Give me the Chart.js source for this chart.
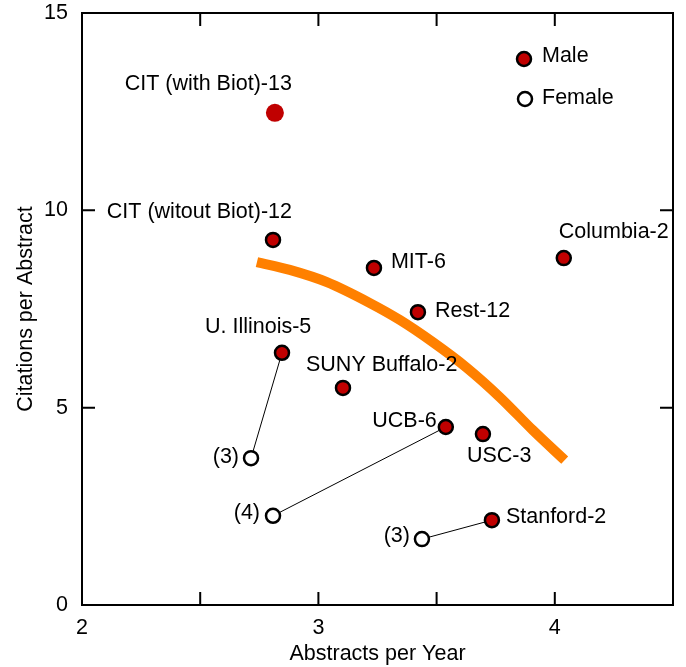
<!DOCTYPE html>
<html>
<head>
<meta charset="utf-8">
<script src="https://cdn.jsdelivr.net/npm/chart.js@4/dist/chart.umd.min.js"></script>
<style>
  html, body { margin: 0; padding: 0; background: #fff; }
  #wrap { width: 686px; height: 667px; }
</style>
</head>
<body>
<div id="wrap"><canvas id="c" width="686" height="667"></canvas></div>
<script>
// ---------- data ----------
const maleNames = ['CIT (witout Biot)-12', 'MIT-6', 'Columbia-2', 'Rest-12', 'U. Illinois-5',
                   'SUNY Buffalo-2', 'UCB-6', 'USC-3', 'Stanford-2'];
const maleX = [2.808, 3.235, 4.038, 3.421, 2.846, 3.104, 3.539, 3.696, 3.734];
const maleY = [9.25, 8.54, 8.79, 7.42, 6.39, 5.50, 4.51, 4.33, 2.15];

const citBiotName = ['CIT (with Biot)-13'];
const citBiotX = [2.816];
const citBiotY = [12.47];

const femaleNames = ['(3)', '(4)', '(3)'];
const femaleX = [2.715, 2.808, 3.438];
const femaleY = [3.72, 2.26, 1.67];
const femalePairsMale = [4, 6, 8]; // index into male arrays

const trendX = [2.740, 2.879, 3.036, 3.218, 3.345, 3.484, 3.628, 3.767, 3.907, 4.042];
const trendY = [8.69, 8.49, 8.18, 7.65, 7.22, 6.66, 6.01, 5.27, 4.43, 3.67];

const xTickLabels = [2, 3, 4];
const yTickLabels = [0, 5, 10, 15];

const xTitle = 'Abstracts per Year';
const yTitle = 'Citations per Abstract';
const legendNames = ['Male', 'Female'];

// ---------- label layout (pixel offsets, not data) ----------
const maleLabelLayout = [
  {align: 'right', dx: 19, dy: -28},
  {align: 'left', dx: 17, dy: -6},
  {align: 'left', dx: -5, dy: -26},
  {align: 'left', dx: 17, dy: -1},
  {align: 'left', dx: -77, dy: -26},
  {align: 'left', dx: -37, dy: -23},
  {align: 'right', dx: -9, dy: -6},
  {align: 'left', dx: -16, dy: 22},
  {align: 'left', dx: 14, dy: -3}
];
const citLabelLayout = [{align: 'right', dx: 17, dy: -29}];
const femaleLabelLayout = [
  {align: 'right', dx: -12, dy: -1},
  {align: 'right', dx: -13, dy: -3},
  {align: 'right', dx: -12, dy: -3}
];

const FONT = '"Liberation Sans", Arial, Helvetica, sans-serif';
const FSIZE = 21.5;
const RED = '#C00000';

const toPts = (xs, ys) => xs.map((x, i) => ({x, y: ys[i]}));

const connectorSets = femalePairsMale.map((mi, i) => ({
  data: [{x: femaleX[i], y: femaleY[i]}, {x: maleX[mi], y: maleY[mi]}],
  showLine: true, borderColor: '#000', borderWidth: 1, pointRadius: 0,
  pointHoverRadius: 0, order: 5
}));

const datasets = [
  {data: toPts(maleX, maleY), backgroundColor: RED, borderColor: '#000', borderWidth: 2.5,
   pointRadius: 7, pointHoverRadius: 7, order: 0},
  {data: toPts(citBiotX, citBiotY), backgroundColor: RED, borderColor: RED, borderWidth: 0,
   pointRadius: 9, pointHoverRadius: 9, order: 0},
  {data: toPts(femaleX, femaleY), backgroundColor: '#fff', borderColor: '#000', borderWidth: 2.5,
   pointRadius: 7, pointHoverRadius: 7, order: 0},
  {data: toPts(trendX, trendY), showLine: true, borderColor: '#FF8000', borderWidth: 10,
   borderCapStyle: 'butt', borderJoinStyle: 'round', cubicInterpolationMode: 'monotone',
   pointRadius: 0, pointHoverRadius: 0, order: 3},
  ...connectorSets
];

const decor = {
  id: 'decor',
  afterDatasetsDraw(chart) {
    const ctx = chart.ctx;
    const a = chart.chartArea;
    const xs = chart.scales.x, ys = chart.scales.y;
    ctx.save();
    // frame
    ctx.strokeStyle = '#000';
    ctx.lineWidth = 2;
    ctx.strokeRect(a.left, a.top, a.right - a.left, a.bottom - a.top);
    // inward ticks
    const TL = 13;
    ctx.beginPath();
    xs.ticks.forEach(t => {
      const px = xs.getPixelForValue(t.value);
      ctx.moveTo(px, a.bottom); ctx.lineTo(px, a.bottom - TL);
      ctx.moveTo(px, a.top); ctx.lineTo(px, a.top + TL);
    });
    ys.ticks.forEach(t => {
      const py = ys.getPixelForValue(t.value);
      ctx.moveTo(a.left, py); ctx.lineTo(a.left + TL, py);
      ctx.moveTo(a.right, py); ctx.lineTo(a.right - TL, py);
    });
    ctx.stroke();

    // point labels
    ctx.fillStyle = '#000';
    ctx.font = FSIZE + 'px ' + FONT;
    ctx.textBaseline = 'middle';
    const drawLabels = (names, xv, yv, layout) => {
      names.forEach((n, i) => {
        const px = xs.getPixelForValue(xv[i]);
        const py = ys.getPixelForValue(yv[i]);
        const L = layout[i];
        ctx.textAlign = L.align;
        ctx.fillText(n, px + L.dx, py + L.dy);
      });
    };
    drawLabels(maleNames, maleX, maleY, maleLabelLayout);
    drawLabels(citBiotName, citBiotX, citBiotY, citLabelLayout);
    drawLabels(femaleNames, femaleX, femaleY, femaleLabelLayout);

    // legend
    const lx = a.right - 149, ly1 = a.top + 46, ly2 = a.top + 86;
    ctx.lineWidth = 2.5;
    ctx.beginPath(); ctx.arc(lx, ly1, 7, 0, Math.PI * 2);
    ctx.fillStyle = RED; ctx.fill(); ctx.strokeStyle = '#000'; ctx.stroke();
    ctx.beginPath(); ctx.arc(lx + 1, ly2, 7, 0, Math.PI * 2);
    ctx.fillStyle = '#fff'; ctx.fill(); ctx.stroke();
    ctx.fillStyle = '#000';
    ctx.textAlign = 'left';
    ctx.fillText(legendNames[0], lx + 18, ly1 - 3);
    ctx.fillText(legendNames[1], lx + 18, ly2 - 1);
    ctx.restore();
  }
};

new Chart(document.getElementById('c'), {
  type: 'scatter',
  data: {datasets},
  plugins: [decor],
  options: {
    responsive: false,
    animation: false,
    events: [],
    layout: {padding: {top: 13, right: 13, left: 0, bottom: 0}},
    plugins: {legend: {display: false}, tooltip: {enabled: false}},
    scales: {
      x: {
        type: 'linear', min: 2, max: 4.5,
        grid: {display: false, drawTicks: false},
        border: {display: false},
        ticks: {
          stepSize: 0.5, padding: 10, color: '#000', maxRotation: 0, autoSkip: false,
          font: {family: FONT, size: FSIZE},
          callback: v => xTickLabels.includes(v) ? String(v) : ''
        },
        title: {display: true, text: xTitle, color: '#000', font: {family: FONT, size: FSIZE},
                padding: {top: 0, bottom: 0}},
        afterFit: s => { s.height = 62; s.paddingLeft = 0; s.paddingRight = 0; }
      },
      y: {
        type: 'linear', min: 0, max: 15,
        grid: {display: false, drawTicks: false},
        border: {display: false},
        ticks: {
          stepSize: 5, padding: 14, color: '#000',
          font: {family: FONT, size: FSIZE},
          callback: v => yTickLabels.includes(v) ? String(v) : ''
        },
        title: {display: true, text: yTitle, color: '#000', font: {family: FONT, size: FSIZE},
                padding: {top: 13, bottom: 0}},
        afterFit: s => { s.width = 82; s.paddingTop = 0; s.paddingBottom = 0; }
      }
    }
  }
});
</script>
</body>
</html>
